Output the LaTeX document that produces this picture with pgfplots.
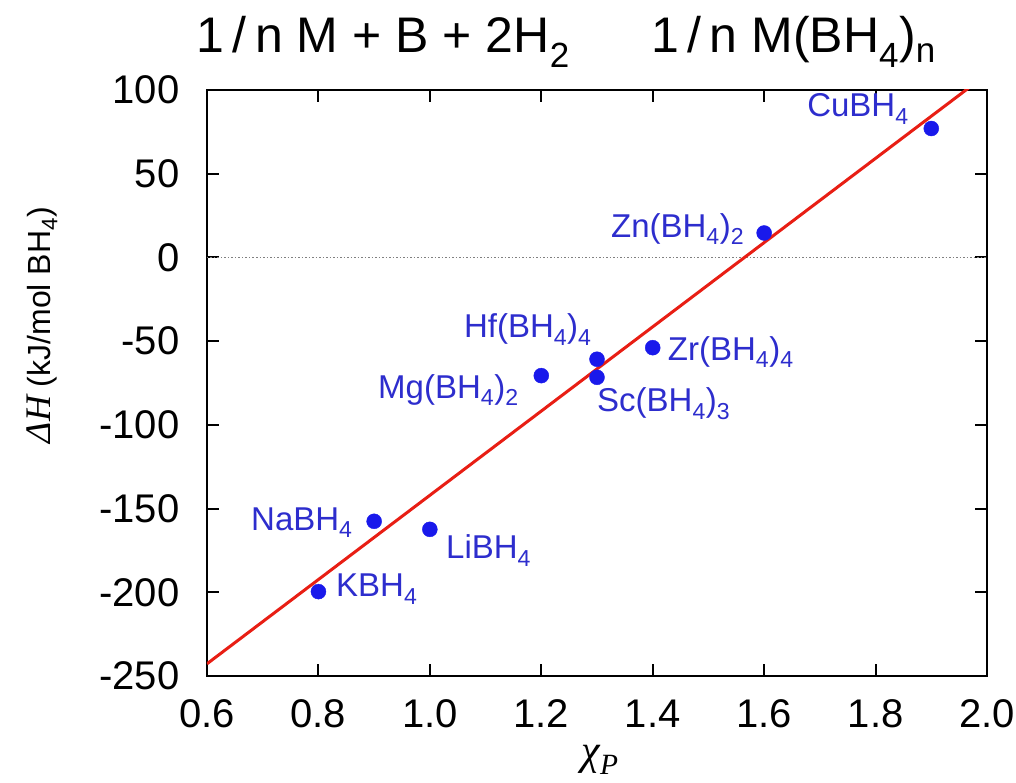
\documentclass[border=0pt]{standalone}
\usepackage{fontspec}
\setmainfont{Liberation Sans}
\newfontfamily\serifit{Liberation Serif}
\usepackage{pgfplots}
\pgfplotsset{compat=1.18}
\definecolor{ptblue}{RGB}{25,25,235}
\definecolor{lblblue}{RGB}{45,45,205}
\definecolor{fitred}{RGB}{232,30,20}
\newcommand{\fs}[1]{\fontsize{#1}{#1}\selectfont}
\begin{document}
\begin{tikzpicture}
\useasboundingbox (-207pt,-106pt) rectangle (809pt,676pt);
\begin{axis}[
  at={(0pt,0pt)}, anchor=south west,
  scale only axis, width=780pt, height=586pt,
  xmin=0.6, xmax=2.0, ymin=-250, ymax=100,
  xtick={0.6,0.8,1.0,1.2,1.4,1.6,1.8,2.0},
  ytick={-250,-200,-150,-100,-50,0,50,100},
  xticklabel style={/pgf/number format/fixed,/pgf/number format/fixed zerofill,/pgf/number format/precision=1, yshift=-20pt},
  yticklabel style={xshift=-24pt},
  /pgf/number format/assume math mode=true,
  tick label style={font=\fs{40}},
  tick align=inside, major tick length=12pt,
  every tick/.style={black, line width=2pt},
  axis line style={line width=2.8pt},
  xlabel={{\serifit\itshape χ\textsubscript{P}}},
  xlabel style={font=\fs{42}, at={(axis description cs:0.504,-0.143)}, anchor=center},
  ylabel={{\serifit\itshape\fs{36}ΔH} (kJ/mol BH\textsubscript{4})},
  ylabel style={font=\fs{32}, at={(axis description cs:-0.2115,0.599)}, anchor=center},
  clip mode=individual,
]
\addplot[gray, dotted, line width=1.5pt] coordinates {(0.6,0) (2.0,0)};
\addplot[fitred, line width=3pt] coordinates {(0.6,-242.7) (2.0,109.5)};
\addplot[only marks, mark=*, mark size=7.5pt, color=ptblue] coordinates {
  (0.8,-199.6) (0.9,-157.6) (1.0,-162.4) (1.2,-70.6) (1.3,-60.8)
  (1.3,-71.6) (1.4,-53.9) (1.6,14.6) (1.9,77)
};
\begin{scope}[every node/.style={font=\fs{33}, text=lblblue, anchor=base west, inner sep=0pt}]
\node at (axis cs:1.677,83.9) {CuBH\textsubscript{4}};
\node at (axis cs:1.325,12.2) {Zn(BH\textsubscript{4})\textsubscript{2}};
\node at (axis cs:1.061,-48.1) {Hf(BH\textsubscript{4})\textsubscript{4}};
\node at (axis cs:1.427,-61.3) {Zr(BH\textsubscript{4})\textsubscript{4}};
\node at (axis cs:1.300,-92.3) {Sc(BH\textsubscript{4})\textsubscript{3}};
\node at (axis cs:0.907,-84.0) {Mg(BH\textsubscript{4})\textsubscript{2}};
\node at (axis cs:0.679,-162.8) {NaBH\textsubscript{4}};
\node at (axis cs:1.029,-180.1) {LiBH\textsubscript{4}};
\node at (axis cs:0.8315,-202.8) {KBH\textsubscript{4}};
\end{scope}
\node[font=\fs{50}, anchor=center] at (axis description cs:0.226,1.082) {1\,/\,n M + B + 2H\textsubscript{2}};
\node[font=\fs{50}, anchor=center] at (axis description cs:0.752,1.082) {1\,/\,n M(BH\textsubscript{4})\textsubscript{n}};
\end{axis}
\end{tikzpicture}
\end{document}
